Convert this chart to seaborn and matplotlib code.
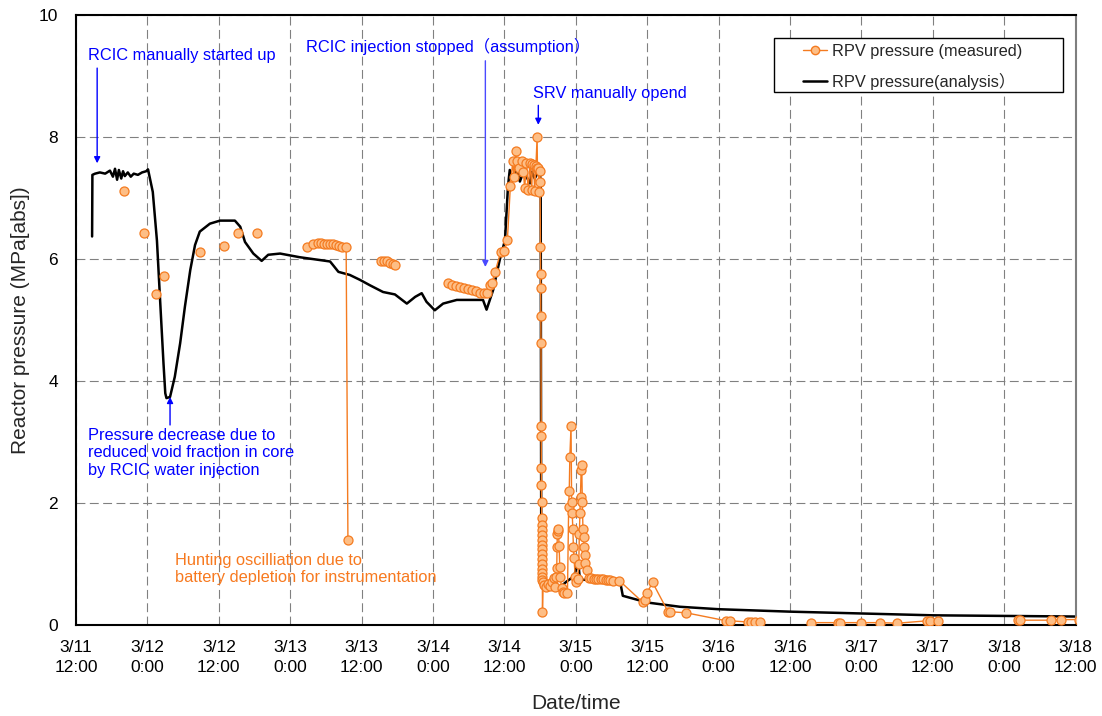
"""RPV pressure: measured vs analysis, 3/11 - 3/18."""
import matplotlib
matplotlib.use("Agg")
import matplotlib.pyplot as plt
from matplotlib.lines import Line2D
from matplotlib.patches import Rectangle
import pandas as pd
import seaborn as sns

# x = hours since 3/11 12:00
tick_hours = [0, 12, 24, 36, 48, 60, 72, 84, 96, 108, 120, 132, 144, 156, 168]
tick_labels = ["3/11\n12:00", "3/12\n0:00", "3/12\n12:00", "3/13\n0:00", "3/13\n12:00",
               "3/14\n0:00", "3/14\n12:00", "3/15\n0:00", "3/15\n12:00", "3/16\n0:00",
               "3/16\n12:00", "3/17\n0:00", "3/17\n12:00", "3/18\n0:00", "3/18\n12:00"]

# analysis curve
ana_h = [2.7, 2.75, 3.2, 4.0, 4.9, 5.7, 6.2, 6.55, 6.9, 7.2, 7.6, 7.9, 8.2, 8.7, 9.2, 9.7,
         10.4, 11.1, 11.8, 12.1, 12.9, 13.6, 14.1, 14.7, 15.0, 15.2, 15.8, 16.6, 17.5, 18.3,
         19.2, 20.0, 20.8, 22.5, 24.2, 26.7, 27.6, 28.4, 29.8, 31.2, 32.3, 34.3, 37.6, 42.7,
         43.2, 44.1, 46.0, 47.7, 49.4, 51.6, 53.6, 54.4, 55.6, 57.0, 58.1, 58.9, 60.3, 61.7,
         64.0, 68.4, 69.0, 70.1, 71.2, 72.1, 72.6, 72.9, 73.5, 74.0, 74.6, 75.2, 75.7, 76.3,
         76.6, 77.1, 77.7, 78.0, 78.1, 78.2, 80.8, 82.4, 83.7, 84.4, 84.7, 88.0, 91.4, 91.9,
         96.0, 101.5, 108.0, 120.0, 132.0, 144.0, 156.0, 168.0]
ana_p = [6.37, 7.38, 7.40, 7.42, 7.40, 7.45, 7.35, 7.48, 7.30, 7.46, 7.32, 7.44, 7.36, 7.42,
         7.35, 7.40, 7.38, 7.42, 7.44, 7.47, 7.10, 6.30, 5.38, 4.29, 3.80, 3.72, 3.74, 4.07,
         4.62, 5.22, 5.82, 6.23, 6.45, 6.58, 6.63, 6.63, 6.53, 6.28, 6.09, 5.97, 6.07, 6.09,
         6.03, 5.96, 5.90, 5.79, 5.74, 5.66, 5.57, 5.46, 5.42, 5.36, 5.27, 5.38, 5.44, 5.30,
         5.16, 5.27, 5.33, 5.33, 5.17, 5.49, 5.98, 6.31, 7.19, 7.46, 7.30, 7.51, 7.27, 7.43,
         7.35, 7.24, 7.43, 7.32, 7.43, 7.40, 7.20, 0.63, 0.57, 0.71, 0.80, 1.04, 0.74, 0.75,
         0.74, 0.48, 0.37, 0.30, 0.26, 0.22, 0.19, 0.16, 0.15, 0.14]

# measured: isolated readings (not joined)
iso_h = [8.06, 11.4, 13.4, 14.8, 20.8, 24.9, 27.3, 30.4]
iso_p = [7.12, 6.42, 5.42, 5.72, 6.12, 6.22, 6.42, 6.42]

# measured: joined runs
run1_h = [38.8, 39.8, 40.7, 41.2, 41.7, 42.2, 42.7, 43.2, 43.7, 44.2, 44.7, 45.4, 45.7]
run1_p = [6.20, 6.24, 6.26, 6.26, 6.25, 6.25, 6.24, 6.24, 6.23, 6.22, 6.20, 6.19, 1.39]

run2_h = [51.3, 51.8, 52.3, 52.8, 53.3, 53.6]
run2_p = [5.97, 5.97, 5.96, 5.94, 5.92, 5.90]

run3_h = [62.5, 63.2, 63.8, 64.5, 65.2, 65.9, 66.5, 67.2, 67.9, 68.5, 69.1,
          69.6, 69.9, 70.4, 71.4, 72.0, 72.5, 73.0,
          73.4, 73.6, 73.9, 74.2, 74.4, 74.9, 75.2, 75.4, 75.7, 76.0, 76.3, 76.6, 76.7, 76.9,
          77.1, 77.3, 77.5, 77.55, 77.7, 77.8, 77.9, 78.0,
          78.05, 78.08, 78.1, 78.12, 78.15, 78.17, 78.19, 78.2, 78.22, 78.24, 78.25, 78.26,
          78.27, 78.28, 78.29, 78.3, 78.31, 78.32, 78.33, 78.34, 78.35, 78.36, 78.37, 78.38,
          78.4, 78.5, 78.7, 79.0, 79.3, 79.6, 80.0, 80.3, 80.5, 80.7, 80.8, 80.85, 80.9, 81.0,
          81.05, 81.2, 81.3, 81.4, 81.6, 81.8, 82.1, 82.6,
          82.8, 82.9, 83.0, 83.2, 83.3, 83.4, 83.5, 83.6, 83.7, 83.9, 84.1, 84.3, 84.5, 84.6,
          84.7, 84.8, 84.9, 85.0, 85.1, 85.2,
          85.3, 85.4, 85.5, 85.6, 85.8, 86.2, 86.6, 87.0, 87.4, 87.8, 88.2, 88.6, 89.0, 89.4,
          89.8, 90.2, 91.3,
          95.3, 95.6, 96.0, 96.9, 99.5, 99.8, 102.6, 109.3, 109.9, 113.0, 113.5, 114.1, 114.9]
run3_p = [5.60, 5.58, 5.56, 5.55, 5.53, 5.51, 5.49, 5.47, 5.45, 5.44, 5.44,
          5.57, 5.61, 5.78, 6.12, 6.13, 6.31, 7.19,
          7.60, 7.35, 7.77, 7.60, 7.50, 7.60, 7.43, 7.16, 7.57, 7.13, 7.58, 7.13, 7.55, 7.54,
          7.12, 7.53, 8.00, 7.50, 7.49, 7.10, 7.45, 7.26,
          6.20, 5.75, 5.52, 5.07, 4.62, 3.26, 3.10, 2.58, 2.29, 2.02, 1.75, 1.64,
          1.56, 1.48, 1.40, 1.32, 1.24, 1.16, 1.08, 1.00, 0.92, 0.85, 0.78, 0.74,
          0.22, 0.70, 0.66, 0.62, 0.68, 0.64, 0.70, 0.77, 0.62, 0.79, 0.93, 1.28, 1.49, 1.55,
          1.58, 1.30, 0.95, 0.79, 0.60, 0.55, 0.52, 0.52,
          1.94, 2.19, 2.76, 3.26, 2.02, 1.83, 1.58, 1.28, 1.10, 0.79, 0.70, 0.75, 1.00, 1.50,
          1.83, 2.10, 2.54, 2.62, 2.02, 1.58,
          1.45, 1.28, 1.15, 1.01, 0.90, 0.77, 0.77, 0.76, 0.76, 0.75, 0.75, 0.75, 0.74, 0.74,
          0.74, 0.73, 0.73,
          0.37, 0.41, 0.53, 0.70, 0.22, 0.22, 0.20, 0.07, 0.07, 0.05, 0.05, 0.05, 0.05]

run4_h = [123.5, 128.0, 128.4, 131.9, 135.2, 138.0, 143.1, 143.5, 144.8]
run4_p = [0.04, 0.04, 0.04, 0.04, 0.04, 0.03, 0.07, 0.07, 0.07]

run5_h = [158.3, 158.7, 163.8, 165.6, 168.5]
run5_p = [0.08, 0.08, 0.08, 0.09, 0.09]

ORANGE = "#F47B20"
ORANGE_FACE = "#FDBE86"

ana = pd.DataFrame({"h": ana_h, "p": ana_p})

frames = [pd.DataFrame({"h": [h], "p": [p], "seg": f"iso{i}"})
          for i, (h, p) in enumerate(zip(iso_h, iso_p))]
for name, hs, ps in [("run1", run1_h, run1_p), ("run2", run2_h, run2_p),
                     ("run3", run3_h, run3_p), ("run4", run4_h, run4_p),
                     ("run5", run5_h, run5_p)]:
    frames.append(pd.DataFrame({"h": hs, "p": ps, "seg": name}))
meas = pd.concat(frames, ignore_index=True)

sns.set_theme(style="white")
plt.rcParams["font.family"] = ["Liberation Sans", "Noto Sans CJK JP", "DejaVu Sans"]

fig, ax = plt.subplots(figsize=(11.02, 7.16), dpi=100)
fig.subplots_adjust(left=0.069, right=0.976, top=0.979, bottom=0.127)

sns.lineplot(data=ana, x="h", y="p", sort=False, estimator=None, color="black",
             lw=1.8, ax=ax, zorder=2)
sns.lineplot(data=meas, x="h", y="p", units="seg", estimator=None, sort=False,
             color=ORANGE, lw=1.0, marker="o", markersize=6.5,
             markerfacecolor=ORANGE_FACE, markeredgecolor=ORANGE, markeredgewidth=0.9,
             ax=ax, zorder=3)

ax.set_xlim(0, 168)
ax.set_ylim(0, 10)
ax.set_xticks(tick_hours)
ax.set_xticklabels(tick_labels)
ax.set_yticks([0, 2, 4, 6, 8, 10])
ax.tick_params(axis="both", labelsize=12.5, direction="in", length=4, colors="black")
ax.tick_params(axis="x", pad=11)
ax.tick_params(axis="y", pad=13)
for t in ax.get_xticklabels():
    t.set_linespacing(1.35)
ax.grid(True, color="#808080", lw=0.8, linestyle=(0, (8, 4)))
ax.set_xlabel("Date/time", fontsize=15, labelpad=14)
ax.set_ylabel("Reactor pressure (MPa[abs])", fontsize=15, labelpad=6)

for side in ["left", "bottom", "top"]:
    ax.spines[side].set_color("black")
    ax.spines[side].set_linewidth(1.5)
ax.spines["right"].set_color("#7f7f7f")
ax.spines["right"].set_linewidth(1.5)

# annotations
blue = "#0000FF"
arrow = dict(arrowstyle="-|>", color=blue, lw=1.0, mutation_scale=9, shrinkA=0, shrinkB=0)
ax.text(2.0, 9.34, "RCIC manually started up", color=blue, fontsize=11.8, va="center")
ax.annotate("", xy=(3.55, 7.57), xytext=(3.55, 9.13), arrowprops=arrow)
ax.text(38.6, 9.48, "RCIC injection stopped（assumption）", color=blue, fontsize=11.8,
        va="center")
ax.annotate("", xy=(68.8, 5.87), xytext=(68.8, 9.25), arrowprops=dict(arrow, color="#4A4AFF"))
ax.text(76.8, 8.72, "SRV manually opend", color=blue, fontsize=11.8, va="center")
ax.annotate("", xy=(77.7, 8.20), xytext=(77.7, 8.52), arrowprops=arrow)
ax.text(2.0, 3.23, "Pressure decrease due to\nreduced void fraction in core\nby RCIC water injection",
        color=blue, fontsize=11.8, va="top", linespacing=1.2)
ax.annotate("", xy=(15.8, 3.74), xytext=(15.8, 3.28), arrowprops=arrow)
ax.text(16.6, 1.18, "Hunting oscilliation due to\nbattery depletion for instrumentation",
        color="#F7791F", fontsize=11.8, va="top", linespacing=1.15)

# legend: wide Excel-style box drawn behind a frameless legend
ax.add_patch(Rectangle((0.698, 0.8738), 0.289, 0.0885, transform=ax.transAxes,
                       facecolor="white", edgecolor="black", lw=1.0, zorder=4.5))
handles = [
    Line2D([], [], color=ORANGE, lw=1.0, marker="o", markersize=6.0,
           markerfacecolor=ORANGE_FACE, markeredgecolor=ORANGE),
    Line2D([], [], color="black", lw=1.8),
]
ax.legend(handles, ["RPV pressure (measured)", "RPV pressure(analysis）"],
          loc="center left", bbox_to_anchor=(0.727, 0.915), borderaxespad=0,
          borderpad=0, fontsize=11.8, frameon=False, handlelength=1.46,
          handletextpad=0.3, labelspacing=0.85)

fig.savefig("out.png", dpi=100)
